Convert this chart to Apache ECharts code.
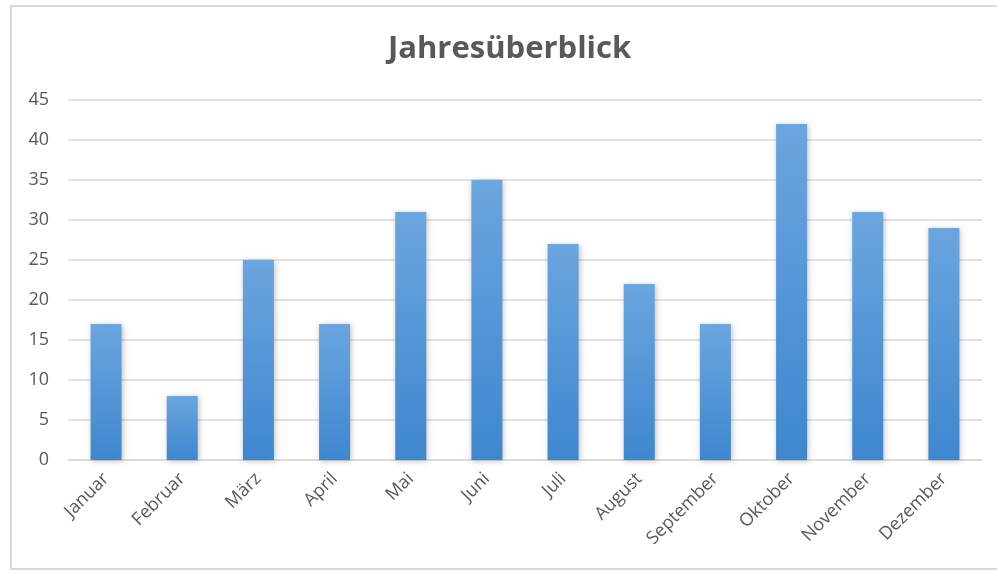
<!DOCTYPE html>
<html>
<head>
<meta charset="utf-8">
<script src="https://cdn.jsdelivr.net/npm/echarts@6/dist/echarts.min.js"></script>
<style>
html, body { margin: 0; padding: 0; background: #fff; }
#container { width: 997px; height: 571px; }
</style>
</head>
<body>
<div id="container"></div>
<script>
var months = ['Januar', 'Februar', 'März', 'April', 'Mai', 'Juni', 'Juli', 'August', 'September', 'Oktober', 'November', 'Dezember'];
var values = [17, 8, 25, 17, 31, 35, 27, 22, 17, 42, 31, 29];
var yTicks = [0, 45, 5]; // min, max, step

var dom = document.getElementById('container');
var myChart = echarts.init(dom);

var option = {
    backgroundColor: '#fff',
    animation: false,
    title: {
        text: 'Jahresüberblick',
        left: 383,
        top: 29,
        textStyle: {
            fontFamily: 'Open Sans',
            fontSize: 31,
            fontWeight: 'bold',
            color: '#595959'
        }
    },
    // chart frame
    graphic: [{
        type: 'rect',
        shape: { x: 11, y: 6, width: 1000, height: 563 },
        style: { fill: 'none', stroke: '#d9d9d9', lineWidth: 2 },
        silent: true
    }],
    grid: {
        left: 68,
        right: 15,
        top: 100,
        bottom: 111,
        containLabel: false
    },
    xAxis: {
        type: 'category',
        data: months,
        axisLine: { lineStyle: { color: '#d9d9d9', width: 1.5 } },
        axisTick: { show: false },
        axisLabel: {
            rotate: 45,
            color: '#595959',
            fontFamily: 'Open Sans',
            fontSize: 18,
            margin: 16,
            interval: 0
        }
    },
    yAxis: {
        type: 'value',
        min: yTicks[0],
        max: yTicks[1],
        interval: yTicks[2],
        axisLine: { show: false },
        axisTick: { show: false },
        splitLine: { lineStyle: { color: '#d9d9d9', width: 1.5 } },
        axisLabel: {
            color: '#595959',
            fontFamily: 'Open Sans',
            fontSize: 18,
            margin: 19
        }
    },
    series: [{
        type: 'bar',
        data: values,
        barWidth: 31,
        itemStyle: {
            color: new echarts.graphic.LinearGradient(0, 0, 0, 1, [
                { offset: 0, color: '#6aa6df' },
                { offset: 1, color: '#3e87cf' }
            ]),
            shadowColor: 'rgba(0,0,0,0.25)',
            shadowBlur: 6,
            shadowOffsetX: 1,
            shadowOffsetY: 1
        }
    }]
};

myChart.setOption(option);
</script>
</body>
</html>
